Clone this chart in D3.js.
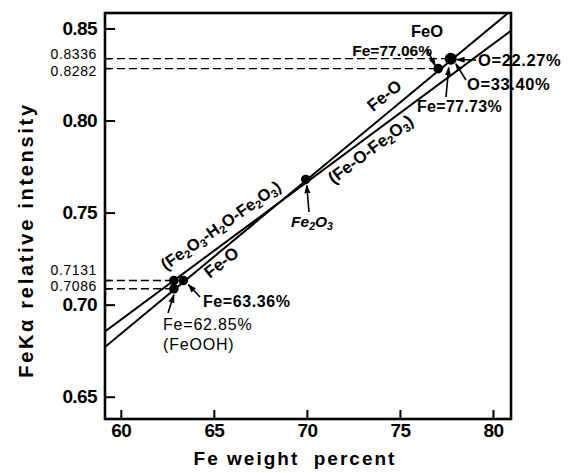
<!DOCTYPE html>
<html>
<head>
<meta charset="utf-8">
<script src="https://cdn.jsdelivr.net/npm/d3@7"></script>
<style>
  body { margin: 0; background: #fff; }
  text { font-family: "Liberation Sans", Arial, sans-serif; fill: #000; }
</style>
</head>
<body>
<svg id="chart" width="575" height="473"></svg>
<script>
// Axis ticks
const xTicks = [60, 65, 70, 75, 80];
const yTicks = [0.65, 0.70, 0.75, 0.80, 0.85];
const yRefValues = [0.8336, 0.8282, 0.7131, 0.7086];
const yRefLabels = ["0.8336", "0.8282", "0.7131", "0.7086"];

// Calibration lines (Fe wt%, relative intensity at each end)
const feOLineFe = [59.15, 80.97];
const feOLineI = [0.677, 0.8597];
const mixedLineFe = [59.15, 81.0];
const mixedLineI = [0.6854, 0.849];

// Measured / derived points
const pointFe = [62.85, 63.36, 62.85, 69.94, 77.06, 77.73];
const pointI = [0.7131, 0.7131, 0.7086, 0.768, 0.8282, 0.8336];

// Reference dashed lines: intensity level and the Fe% where they end
const dashI = [0.8336, 0.8282, 0.7131, 0.7086];
const dashFe = [77.73, 77.06, 62.85, 62.85];

const svg = d3.select("#chart");
const plotL = 105, plotR = 511, plotT = 13, plotB = 419;

const x = d3.scaleLinear().domain([59.15, 80.97]).range([plotL, plotR]);
const y = d3.scaleLinear().domain([0.6379, 0.8584]).range([plotB, plotT]);

// arrowhead
const defs = svg.append("defs");
defs.append("marker")
  .attr("id", "arrow")
  .attr("viewBox", "0 -4 10 8")
  .attr("refX", 9).attr("refY", 0)
  .attr("markerWidth", 9).attr("markerHeight", 7)
  .attr("markerUnits", "userSpaceOnUse")
  .attr("orient", "auto")
  .append("path").attr("d", "M0,-3.5L10,0L0,3.5Z").attr("fill", "#000");
defs.append("clipPath").attr("id", "plotClip")
  .append("rect").attr("x", plotL).attr("y", plotT)
  .attr("width", plotR - plotL).attr("height", plotB - plotT);

// axes (ticks drawn inward)
const xAxis = d3.axisBottom(x).tickValues(xTicks).tickSize(-9).tickPadding(5).tickFormat(d3.format("d"));
const yAxis = d3.axisLeft(y).tickValues(yTicks).tickSize(-10).tickPadding(8).tickFormat(d3.format(".2f"));

const gx = svg.append("g").attr("transform", `translate(0,${plotB})`).call(xAxis);
const gy = svg.append("g").attr("transform", `translate(${plotL},0)`).call(yAxis);
[gx, gy].forEach(g => {
  g.select(".domain").remove();
  g.selectAll(".tick line").attr("stroke", "#000").attr("stroke-width", 2);
  g.selectAll(".tick text").attr("font-size", 19).attr("font-weight", "bold").attr("fill", "#000")
    .attr("font-family", "Liberation Sans, Arial, sans-serif").attr("letter-spacing", -0.6);
});

// frame
svg.append("rect").attr("x", plotL).attr("y", plotT)
  .attr("width", plotR - plotL).attr("height", plotB - plotT)
  .attr("fill", "none").attr("stroke", "#000").attr("stroke-width", 2.6);

// reference value ticks and labels
const refOffsets = [-3, 3.5, -9.5, -1.5];
yRefValues.forEach((v, i) => {
  svg.append("line").attr("x1", plotL).attr("x2", plotL + 6)
    .attr("y1", y(v)).attr("y2", y(v)).attr("stroke", "#000").attr("stroke-width", 1.5);
  svg.append("text").attr("x", 97).attr("y", y(v) + refOffsets[i])
    .attr("text-anchor", "end").attr("dominant-baseline", "middle")
    .attr("font-size", 14).attr("letter-spacing", 0.6).text(yRefLabels[i]);
});

// dashed reference lines
dashI.forEach((v, i) => {
  svg.append("line").attr("x1", plotL).attr("x2", x(dashFe[i]))
    .attr("y1", y(v)).attr("y2", y(v))
    .attr("stroke", "#000").attr("stroke-width", 1.4).attr("stroke-dasharray", "8,4");
});

// calibration lines
const line = d3.line().x(d => x(d[0])).y(d => y(d[1]));
const plot = svg.append("g").attr("clip-path", "url(#plotClip)");
plot.append("path").datum(d3.zip(feOLineFe, feOLineI)).attr("d", line)
  .attr("fill", "none").attr("stroke", "#000").attr("stroke-width", 2);
plot.append("path").datum(d3.zip(mixedLineFe, mixedLineI)).attr("d", line)
  .attr("fill", "none").attr("stroke", "#000").attr("stroke-width", 2);

// points
svg.selectAll("circle.pt").data(d3.zip(pointFe, pointI)).join("circle")
  .attr("class", "pt")
  .attr("cx", d => x(d[0])).attr("cy", d => y(d[1]))
  .attr("r", (d, i) => i === 5 ? 6 : 4.8)
  .attr("fill", "#000");

// helpers
function label(txt, px, py, opts = {}) {
  const size = opts.size || 15.5;
  const t = svg.append("text").attr("x", px).attr("y", py)
    .attr("font-size", size)
    .attr("font-weight", opts.weight || "bold")
    .attr("text-anchor", opts.anchor || "start");
  if (opts.italic) t.attr("font-style", "italic");
  if (opts.rotate !== undefined) t.attr("transform", `rotate(${opts.rotate},${px},${py})`);
  if (opts.letter) t.attr("letter-spacing", opts.letter);
  const parts = Array.isArray(txt) ? txt : [[txt, false]];
  let sub = false;
  parts.forEach(([s, isSub]) => {
    const ts = t.append("tspan").text(s);
    if (isSub) {
      ts.attr("font-size", size * 0.68);
      if (!sub) { ts.attr("dy", 3); sub = true; }
    } else if (sub) { ts.attr("dy", -3); sub = false; }
  });
  return t;
}
function arrow(x1, y1, x2, y2) {
  svg.append("line").attr("x1", x1).attr("y1", y1).attr("x2", x2).attr("y2", y2)
    .attr("stroke", "#000").attr("stroke-width", 1.6).attr("marker-end", "url(#arrow)");
}

const pFeO = [x(77.73), y(0.8336)];
const p7706 = [x(77.06), y(0.8282)];
const pFe2O3 = [x(69.94), y(0.768)];
const p6336 = [x(63.36), y(0.7131)];
const p6285 = [x(62.85), y(0.7086)];

// right-hand annotations
label("FeO", 427, 37, { anchor: "middle", size: 16.5 });
label("Fe=77.06%", 432, y(0.8336) - 3, { anchor: "end", size: 15.5 });
arrow(427, y(0.8336) - 9, p7706[0] - 3, p7706[1] - 3);
label("O=22.27%", 478, 66, { size: 16.5, letter: 0.6 });
arrow(476, 60, pFeO[0] + 6, pFeO[1] + 1);
label("O=33.40%", 467, 90, { size: 16.5, letter: 0.6 });
arrow(466, 80, pFeO[0] + 5, pFeO[1] + 5);
label("Fe=77.73%", 417, 112, { size: 16, letter: 0.3 });
arrow(446, 97, pFeO[0] - 2, pFeO[1] + 9);

label("Fe-O", 388, 100, { anchor: "middle", size: 17, rotate: -39 });
label([["(Fe-O-Fe", false], ["2", true], ["O", false], ["3", true], [")", false]],
  374, 154, { anchor: "middle", size: 17, rotate: -37 });

// Fe2O3 point
label([["Fe", false], ["2", true], ["O", false], ["3", true]], 312, 227,
  { anchor: "middle", size: 15.5, italic: true });
arrow(309, 212, pFe2O3[0] + 1, pFe2O3[1] + 6);

// left-hand annotations
label([["(Fe", false], ["2", true], ["O", false], ["3", true], ["-H", false], ["2", true],
       ["O-Fe", false], ["2", true], ["O", false], ["3", true], [")", false]],
  224, 230, { anchor: "middle", size: 16.5, rotate: -35 });
label("Fe-O", 225, 267, { anchor: "middle", size: 17, rotate: -38 });

label("Fe=63.36%", 203, 307, { size: 16, letter: 0.6 });
arrow(200, 297, p6336[0] + 5, p6336[1] + 4);
label("Fe=62.85%", 163, 330, { size: 16, weight: "normal", letter: 0.8 });
label("(FeOOH)", 163, 350, { size: 16, weight: "normal", letter: 0.8 });
arrow(168, 313, p6285[0], p6285[1] + 6);

// axis titles
label("Fe weight  percent", 295, 465, { anchor: "middle", size: 19, letter: 2 })
  .attr("xml:space", "preserve").style("white-space", "pre");
svg.append("text")
  .attr("transform", "translate(33,240) rotate(-90)")
  .attr("text-anchor", "middle").attr("font-size", 20).attr("font-weight", "bold")
  .attr("letter-spacing", 2.7).text("FeKα relative intensity");
</script>
</body>
</html>
